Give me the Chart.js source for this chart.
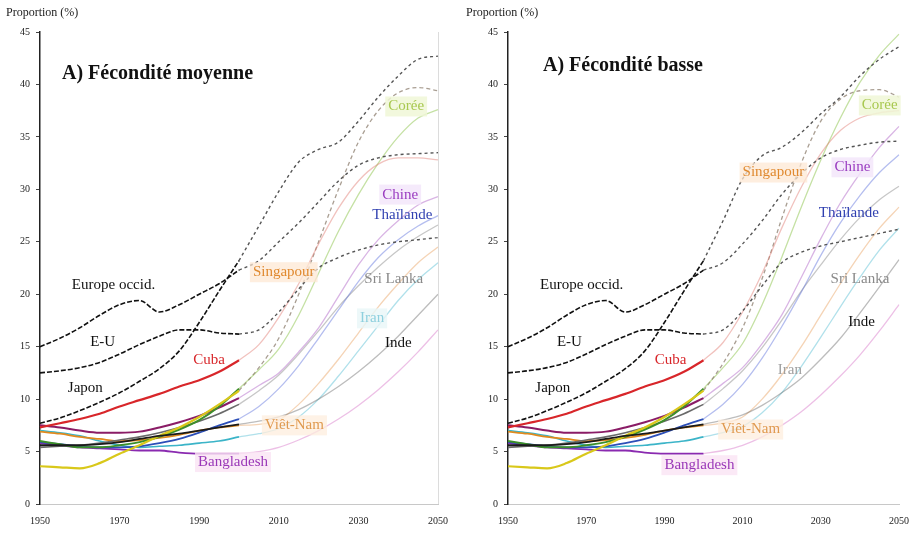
<!DOCTYPE html>
<html>
<head>
<meta charset="utf-8">
<script src="https://cdn.jsdelivr.net/npm/chart.js@4.4.1/dist/chart.umd.min.js"></script>
<style>
  html, body { margin: 0; padding: 0; background: #fff; }
  #wrap { position: relative; width: 920px; height: 533px; overflow: hidden; }
  .pane { position: absolute; top: 0; width: 460px; height: 533px; }
</style>
</head>
<body>
<div id="wrap">
  <div class="pane" style="left:0"><canvas id="cMoy" width="460" height="533"></canvas></div>
  <div class="pane" style="left:460px"><canvas id="cBas" width="460" height="533"></canvas></div>
</div>
<script>
// Years on the horizontal axis (every 5 years) and the labelled ticks
const years = [1950,1955,1960,1965,1970,1975,1980,1985,1990,1995,2000,
               2005,2010,2015,2020,2025,2030,2035,2040,2045,2050];
const yearTicks = [1950,1970,1990,2010,2030,2050];
const valueTicks = [0,5,10,15,20,25,30,35,40,45];

// Observed share of people aged 60+ (%), 1950-2000
const histJapon      = [7.7,8.2,8.9,9.7,10.6,11.7,12.9,14.6,17.3,20.3,23.2];
const histEurope     = [15.0,15.8,16.8,18.0,19.0,19.4,18.3,19.0,20.0,21.0,22.3];
const histEU         = [12.5,12.7,13.0,13.5,14.3,15.2,16.0,16.6,16.6,16.3,16.2];
const histCuba       = [7.3,7.7,8.1,8.6,9.3,9.9,10.5,11.2,11.8,12.6,13.7];
const histSingapour  = [3.6,3.5,3.4,3.9,4.8,5.6,6.5,7.3,8.3,9.5,10.8];
const histCoree      = [6.0,5.7,5.4,5.4,5.6,5.9,6.4,7.1,8.0,9.3,11.0];
const histChine      = [7.5,7.3,7.0,6.8,6.8,6.9,7.3,7.8,8.4,9.2,10.1];
const histThailande  = [5.9,5.7,5.5,5.4,5.4,5.5,5.8,6.2,6.8,7.5,8.1];
const histSriLanka   = [5.4,5.5,5.6,5.8,6.1,6.4,6.8,7.3,7.9,8.6,9.5];
const histInde       = [5.6,5.6,5.6,5.7,5.9,6.2,6.5,6.7,7.0,7.3,7.6];
const histVietNam    = [6.9,6.7,6.4,6.2,6.0,6.1,6.3,6.6,7.0,7.3,7.5];
const histIran       = [7.0,6.8,6.5,6.0,5.6,5.4,5.5,5.6,5.8,6.0,6.4];
const histBangladesh = [5.8,5.6,5.4,5.3,5.2,5.1,5.1,4.9,4.8,4.8,4.8];

// Projections 2000-2050, medium fertility variant
const moyJapon      = [23.2,26.5,29.8,32.6,33.8,34.5,36.5,38.8,40.8,42.4,42.7];
const moyEurope     = [22.3,23.2,25.0,26.8,28.8,30.8,32.3,33.0,33.3,33.4,33.5];
const moyEU         = [16.2,16.6,18.3,20.5,22.5,23.5,24.2,24.7,25.0,25.2,25.4];
const moyCuba       = [13.7,15.2,17.8,21.0,24.8,28.2,30.8,32.4,33.0,33.0,32.8];
const moySingapour  = [10.8,13.0,15.8,20.0,25.0,30.0,34.5,37.5,39.2,39.7,39.4];
const moyCoree      = [11.0,12.8,14.8,18.0,22.0,26.0,29.5,32.5,35.0,36.8,37.6];
const moyChine      = [10.1,11.3,12.5,14.5,16.8,19.8,22.8,25.2,27.0,28.5,29.3];
const moyThailande  = [8.1,9.3,11.0,13.2,15.8,18.5,21.2,23.5,25.2,26.5,27.5];
const moySriLanka   = [9.5,10.8,12.3,14.3,16.5,18.8,20.8,22.6,24.2,25.5,26.6];
const moyInde       = [7.6,7.9,8.3,9.0,10.0,11.2,12.6,14.2,16.0,18.0,20.0];
const moyVietNam    = [7.5,7.6,8.0,9.5,11.5,13.8,16.3,18.8,21.0,23.0,24.5];
const moyIran       = [6.4,6.7,7.2,8.3,10.0,12.2,14.6,17.0,19.4,21.4,23.0];
const moyBangladesh = [4.8,5.0,5.4,6.1,7.0,8.1,9.4,10.9,12.6,14.5,16.6];

// Projections 2000-2050, low fertility variant
const basJapon      = [23.2,27.0,31.0,33.2,34.0,35.4,37.2,38.8,40.8,42.4,43.6];
const basEurope     = [22.3,23.0,24.8,27.0,29.5,31.5,33.0,33.8,34.2,34.5,34.6];
const basEU         = [16.2,16.6,18.4,20.8,23.0,24.0,24.6,25.0,25.4,25.8,26.2];
const basCuba       = [13.7,15.4,18.3,22.0,26.3,30.2,33.4,35.6,36.8,37.3,37.5];
const basSingapour  = [10.8,13.4,16.8,21.5,27.2,32.5,36.5,38.6,39.4,39.5,38.8];
const basCoree      = [11.0,13.0,15.3,19.0,23.5,28.3,32.8,36.8,40.2,42.8,44.8];
const basChine      = [10.1,11.5,13.0,15.3,18.0,21.6,25.3,28.7,31.5,34.0,36.0];
const basThailande  = [8.1,9.5,11.4,13.9,16.9,20.2,23.7,26.8,29.4,31.6,33.3];
const basSriLanka   = [9.5,11.0,12.7,14.9,17.5,20.3,22.8,25.2,27.3,29.0,30.3];
const basInde       = [7.6,8.0,8.5,9.4,10.6,12.0,13.8,15.8,18.2,20.7,23.3];
const basVietNam    = [7.5,7.7,8.3,10.0,12.3,15.0,18.0,21.0,23.8,26.3,28.3];
const basIran       = [6.4,6.8,7.4,8.7,10.6,13.1,15.9,18.8,21.6,24.2,26.3];
const basBangladesh = [4.8,5.1,5.6,6.4,7.5,8.8,10.4,12.2,14.2,16.5,19.0];

// Line styles per country
const styles = {
  Japon:      { hist: '#111', proj: '#555', dash: [5,2], projDash: [3,3], w: 1.6 },
  Europe:     { hist: '#111', proj: '#555', dash: [5,2], projDash: [3,3], w: 1.6 },
  EU:         { hist: '#111', proj: '#555', dash: [5,2], projDash: [3,3], w: 1.6 },
  Cuba:       { hist: '#d8262a', proj: 'rgba(225,120,110,0.45)', w: 2.2 },
  Singapour:  { hist: '#d9c81a', proj: 'rgba(140,125,110,0.75)', projDash: [4,3], w: 2.2 },
  Coree:      { hist: '#3d8f2a', proj: 'rgba(150,200,90,0.55)', w: 2 },
  Chine:      { hist: '#8a1c66', proj: 'rgba(170,90,195,0.45)', w: 2 },
  Thailande:  { hist: '#2c4fb8', proj: 'rgba(90,110,220,0.45)', w: 1.8 },
  SriLanka:   { hist: '#6a6a6a', proj: 'rgba(130,130,130,0.45)', w: 1.6 },
  Inde:       { hist: '#1a1a1a', proj: 'rgba(90,90,90,0.4)', w: 1.8 },
  VietNam:    { hist: '#e08a1e', proj: 'rgba(235,170,110,0.5)', w: 1.8 },
  Iran:       { hist: '#3bb4c8', proj: 'rgba(100,195,215,0.5)', w: 1.6 },
  Bangladesh: { hist: '#8a2ab0', proj: 'rgba(220,130,205,0.5)', w: 1.8 }
};

const historical = {
  Japon: histJapon, Europe: histEurope, EU: histEU, Cuba: histCuba,
  Singapour: histSingapour, Coree: histCoree, Chine: histChine,
  Thailande: histThailande, SriLanka: histSriLanka, Inde: histInde,
  VietNam: histVietNam, Iran: histIran, Bangladesh: histBangladesh
};
const projMoy = {
  Japon: moyJapon, Europe: moyEurope, EU: moyEU, Cuba: moyCuba,
  Singapour: moySingapour, Coree: moyCoree, Chine: moyChine,
  Thailande: moyThailande, SriLanka: moySriLanka, Inde: moyInde,
  VietNam: moyVietNam, Iran: moyIran, Bangladesh: moyBangladesh
};
const projBas = {
  Japon: basJapon, Europe: basEurope, EU: basEU, Cuba: basCuba,
  Singapour: basSingapour, Coree: basCoree, Chine: basChine,
  Thailande: basThailande, SriLanka: basSriLanka, Inde: basInde,
  VietNam: basVietNam, Iran: basIran, Bangladesh: basBangladesh
};

// Country names written on each panel: [text, year, value, colour, box fill]
const namesMoy = [
  ['Europe occid.', 1958, 20.9, '#111', null],
  ['E-U', 1962.6, 15.4, '#111', null],
  ['Japon', 1957, 11.1, '#111', null],
  ['Cuba', 1988.5, 13.7, '#d8262a', null],
  ['Singapour', 2003.5, 22.1, '#e08a30', 'rgba(253,232,212,0.75)'],
  ['Viêt-Nam', 2006.5, 7.5, '#e09a50', 'rgba(253,238,222,0.75)'],
  ['Bangladesh', 1989.7, 4.0, '#9a38b8', 'rgba(250,228,244,0.8)'],
  ['Corée', 2037.5, 37.9, '#a8c850', 'rgba(240,247,215,0.85)'],
  ['Chine', 2036, 29.5, '#9a3cc0', 'rgba(243,230,250,0.85)'],
  ['Thaïlande', 2033.5, 27.5, '#3040b0', null],
  ['Sri Lanka', 2031.5, 21.4, '#8a8a8a', null],
  ['Iran', 2030.4, 17.7, '#8fd0de', 'rgba(232,246,248,0.8)'],
  ['Inde', 2036.7, 15.3, '#111', null]
];
const namesBas = [
  ['Europe occid.', 1958.2, 20.9, '#111', null],
  ['E-U', 1962.5, 15.4, '#111', null],
  ['Japon', 1957, 11.1, '#111', null],
  ['Cuba', 1987.5, 13.7, '#d8262a', null],
  ['Singapour', 2010, 31.6, '#e08a30', 'rgba(253,232,212,0.75)'],
  ['Chine', 2033.5, 32.1, '#9a3cc0', 'rgba(243,230,250,0.85)'],
  ['Corée', 2040.5, 38.0, '#a8c850', 'rgba(240,247,215,0.85)'],
  ['Thaïlande', 2029.5, 27.7, '#3040b0', null],
  ['Sri Lanka', 2032.5, 21.4, '#8a8a8a', null],
  ['Inde', 2037, 17.3, '#111', null],
  ['Iran', 2019, 12.8, '#a0a0a0', null],
  ['Viêt-Nam', 2004.5, 7.1, '#e09a50', 'rgba(253,238,222,0.75)'],
  ['Bangladesh', 1990, 3.7, '#9a38b8', 'rgba(250,228,244,0.8)']
];

const SERIF = '"Liberation Serif", "DejaVu Serif", serif';
const histLen = 11;

function buildDatasets(proj) {
  const front = [];   // drawn on top
  const back = [];
  const order = ['Japon','Europe','EU','Cuba','Inde','Singapour','Coree','Chine',
                 'Thailande','SriLanka','VietNam','Iran','Bangladesh'];
  order.forEach(k => {
    const st = styles[k];
    const h = historical[k].concat(new Array(years.length - histLen).fill(null));
    const p = new Array(histLen - 1).fill(null).concat(proj[k]);
    front.push({
      data: h, borderColor: st.hist, borderWidth: st.w,
      borderDash: st.dash || [], pointRadius: 0,
      cubicInterpolationMode: 'monotone', spanGaps: false
    });
    back.push({
      data: p, borderColor: st.proj, borderWidth: st.dash ? 1.4 : 1.3,
      borderDash: st.projDash || [], pointRadius: 0,
      cubicInterpolationMode: 'monotone', spanGaps: false
    });
  });
  return front.concat(back);
}

function yearPixel(xs, yr) {
  return xs.getPixelForValue((yr - years[0]) / 5);
}

function makeChart(id, proj, names, title, leftW, rightEdge, rightBorder, titlePos) {
  const decor = {
    id: 'decor',
    afterDatasetsDraw(chart) {
      const ctx = chart.ctx, ca = chart.chartArea;
      const xs = chart.scales.x, ys = chart.scales.y;
      ctx.save();
      if (rightBorder) {
        ctx.strokeStyle = '#dcdcdc'; ctx.lineWidth = 1;
        ctx.beginPath(); ctx.moveTo(ca.right + 0.5, ca.top); ctx.lineTo(ca.right + 0.5, ca.bottom); ctx.stroke();
      }
      // axis caption
      ctx.fillStyle = '#222';
      ctx.font = '12px ' + SERIF;
      ctx.textAlign = 'left'; ctx.textBaseline = 'middle';
      ctx.fillText('Proportion (%)', 6, 13);
      // panel title
      ctx.font = 'bold 20px ' + SERIF;
      ctx.fillStyle = '#111';
      ctx.fillText(title, ca.left + titlePos[0], ca.top + titlePos[1]);
      // country names
      ctx.font = '15px ' + SERIF;
      names.forEach(([t, yr, v, col, box]) => {
        const x = yearPixel(xs, yr), y = ys.getPixelForValue(v);
        const w = ctx.measureText(t).width;
        if (box) {
          ctx.fillStyle = box;
          ctx.fillRect(x - 3, y - 10, w + 6, 20);
        }
        ctx.fillStyle = col;
        ctx.fillText(t, x, y);
      });
      ctx.restore();
    }
  };

  return new Chart(document.getElementById(id), {
    type: 'line',
    data: { labels: years.map(String), datasets: buildDatasets(proj) },
    options: {
      responsive: false, animation: false, devicePixelRatio: 1,
      layout: { padding: { top: 32, right: 460 - rightEdge, left: 0, bottom: 0 } },
      plugins: { legend: { display: false }, tooltip: { enabled: false }, title: { display: false } },
      elements: { line: { tension: 0.4 } },
      scales: {
        x: {
          type: 'category', offset: false,
          ticks: {
            autoSkip: false, maxRotation: 0, minRotation: 0, padding: 11,
            color: '#222', font: { family: SERIF, size: 10 },
            callback: (v, i) => yearTicks.includes(years[i]) ? String(years[i]) : ''
          },
          grid: { drawOnChartArea: false, drawTicks: false },
          border: { color: '#c8c8c8', width: 1 },
          afterFit: s => { s.height = 29; }
        },
        y: {
          min: 0, max: 45,
          afterBuildTicks: s => { s.ticks = valueTicks.map(v => ({ value: v })); },
          ticks: { color: '#222', padding: 6, font: { family: SERIF, size: 10 } },
          grid: { drawOnChartArea: false, drawTicks: true, tickLength: 4, color: '#444' },
          border: { color: '#222', width: 1.5 },
          afterFit: s => { s.width = leftW; }
        }
      }
    },
    plugins: [decor]
  });
}

makeChart('cMoy', projMoy, namesMoy, 'A) Fécondité moyenne', 40, 438, true, [22, 42]);
makeChart('cBas', projBas, namesBas, 'A) Fécondité basse', 48, 440, false, [35, 34]);
</script>
</body>
</html>
